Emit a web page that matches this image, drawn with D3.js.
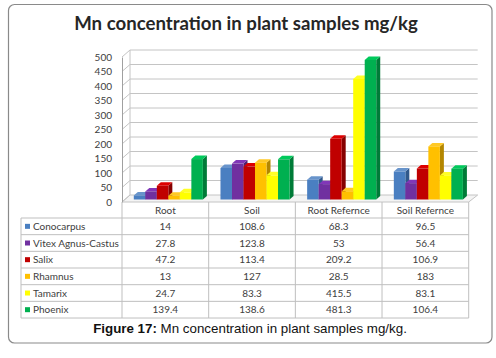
<!DOCTYPE html>
<html><head><meta charset="utf-8">
<script src="https://cdn.jsdelivr.net/npm/d3@7"></script>
<style>html,body{margin:0;padding:0;background:#fff;}svg{display:block;}</style>
</head><body>
<script>
// ---- data ----
const categories = ["Root", "Soil", "Root Refernce", "Soil Refernce"];
const seriesNames = ["Conocarpus", "Vitex Agnus-Castus", "Salix", "Rhamnus", "Tamarix", "Phoenix"];
const conocarpus = [14, 108.6, 68.3, 96.5];
const vitex = [27.8, 123.8, 53, 56.4];
const salix = [47.2, 113.4, 209.2, 106.9];
const rhamnus = [13, 127, 28.5, 183];
const tamarix = [24.7, 83.3, 415.5, 83.1];
const phoenix = [139.4, 138.6, 481.3, 106.4];
const yTicks = [0, 50, 100, 150, 200, 250, 300, 350, 400, 450, 500];
const titleText = "Mn concentration in plant samples mg/kg";
const captionBold = "Figure 17:";
const captionRest = " Mn concentration in plant samples mg/kg.";

const seriesValues = [conocarpus, vitex, salix, rhamnus, tamarix, phoenix];
const colors = ["#4a7fc1", "#7030a0", "#c00000", "#ffc000", "#ffff00", "#00b050"];

const W = 496, H = 358;
const svg = d3.select("body").append("svg").attr("width", W).attr("height", H);

// frame
svg.append("rect").attr("x", 8.5).attr("y", 4.5).attr("width", 483.5).attr("height", 338.5)
  .attr("rx", 6).attr("fill", "#fff").attr("stroke", "#8a8a8a").attr("stroke-width", 1.2);

function fit(sel, target) {
  const fs = parseFloat(sel.attr("font-size"));
  const w = sel.node().getComputedTextLength();
  sel.attr("font-size", fs * target / w);
}

// title
const title = svg.append("text").attr("x", 246).attr("y", 30).attr("text-anchor", "middle")
  .attr("font-family", "Lato, 'Open Sans', sans-serif").attr("font-weight", "bold")
  .attr("font-size", 18).attr("fill", "#262626").text(titleText);
fit(title, 344);

// geometry
const x0 = 122, x1 = 468.7;
const backDX = 8, backDY = -7;
const y = d3.scaleLinear().domain([0, 500]).range([202, 57]);
const x = d3.scaleBand().domain(categories).range([x0, x1]).padding(0);
const xi = d3.scaleBand().domain(seriesNames).range([8.8, x.bandwidth() - 8.8]).padding(0);

const grid = "#c4c4c4";
// floor
svg.append("path")
  .attr("d", `M${x0},${y(0)} L${x0 + backDX},${y(0) + backDY} L${x1 + backDX + 1},${y(0) + backDY} L${x1},${y(0)} Z`)
  .attr("fill", "#f4f4f4").attr("stroke", grid).attr("stroke-width", 1);

// gridlines on back wall and side wall
const g = svg.append("g");
yTicks.forEach(t => {
  if (t > 0) {
    g.append("line").attr("x1", x0 + backDX).attr("x2", x1 + backDX + 1)
      .attr("y1", y(t) + backDY).attr("y2", y(t) + backDY).attr("stroke", grid);
  }
  g.append("line").attr("x1", x0).attr("y1", y(t)).attr("x2", x0 + backDX).attr("y2", y(t) + backDY)
    .attr("stroke", grid);
});
g.append("line").attr("x1", x0 + backDX).attr("x2", x0 + backDX)
  .attr("y1", y(0) + backDY).attr("y2", y(500) + backDY).attr("stroke", grid);

// y axis
const axis = svg.append("g").attr("transform", `translate(${x0},0)`)
  .call(d3.axisLeft(y).tickValues(yTicks).tickSize(0).tickSizeOuter(0).tickPadding(10));
axis.select(".domain").attr("stroke", "#a0a0a0");
axis.selectAll("text").attr("font-family", "Lato, sans-serif").attr("font-size", 10).attr("fill", "#404040");

// bars
const bdx = 3, bdy = -2.5, ddx = 4, ddy = -3.5;
function shade(c, k) { const h = d3.hsl(c); return d3.hsl(h.h, h.s, Math.max(0, Math.min(1, h.l * k))).toString(); }
const barsG = svg.append("g");
categories.forEach((cat, ci) => {
  seriesNames.forEach((s, si) => {
    const v = seriesValues[si][ci];
    const bx = x(cat) + xi(s) + bdx;
    const bw = xi.bandwidth();
    const yb = y(0) + bdy, yt = y(v) + bdy;
    const c = colors[si];
    const bg = barsG.append("g");
    // side
    bg.append("path").attr("d", `M${bx + bw},${yb} L${bx + bw + ddx},${yb + ddy} L${bx + bw + ddx},${yt + ddy} L${bx + bw},${yt} Z`)
      .attr("fill", shade(c, 0.7));
    // top
    bg.append("path").attr("d", `M${bx},${yt} L${bx + ddx},${yt + ddy} L${bx + bw + ddx},${yt + ddy} L${bx + bw},${yt} Z`)
      .attr("fill", shade(c, 1.15));
    // front
    bg.append("rect").attr("x", bx).attr("y", yt).attr("width", bw).attr("height", yb - yt).attr("fill", c);
  });
});

// data table
const tableTop = 202, headH = 16, rowH = 16.67, tableLeft = 21;
const rowTop = tableTop + headH;
const tableBottom = rowTop + rowH * seriesNames.length;
const tg = svg.append("g");
const lineC = "#bfbfbf";
// vertical lines
categories.forEach((cat, i) => {
  tg.append("line").attr("x1", x(cat)).attr("x2", x(cat)).attr("y1", tableTop).attr("y2", tableBottom).attr("stroke", lineC);
});
tg.append("line").attr("x1", x1).attr("x2", x1).attr("y1", tableTop).attr("y2", tableBottom).attr("stroke", lineC);
tg.append("line").attr("x1", tableLeft).attr("x2", tableLeft).attr("y1", rowTop).attr("y2", tableBottom).attr("stroke", lineC);
// horizontal lines
for (let r = 0; r <= seriesNames.length; r++) {
  const yy = rowTop + r * rowH;
  tg.append("line").attr("x1", tableLeft).attr("x2", x1).attr("y1", yy).attr("y2", yy).attr("stroke", lineC);
}
const tf = "Lato, sans-serif", tfs = 10, tc = "#404040";
categories.forEach(cat => {
  tg.append("text").attr("x", x(cat) + x.bandwidth() / 2).attr("y", tableTop + headH / 2 + 3.5)
    .attr("text-anchor", "middle").attr("font-family", tf).attr("font-size", tfs).attr("fill", tc).text(cat);
});
seriesNames.forEach((s, si) => {
  const cy = rowTop + si * rowH + rowH / 2;
  tg.append("rect").attr("x", 25).attr("y", cy - 2.5).attr("width", 5).attr("height", 5).attr("fill", colors[si]);
  tg.append("text").attr("x", 33).attr("y", cy + 3.5).attr("font-family", tf).attr("font-size", tfs).attr("fill", tc).text(s);
  categories.forEach((cat, ci) => {
    tg.append("text").attr("x", x(cat) + x.bandwidth() / 2).attr("y", cy + 3.5)
      .attr("text-anchor", "middle").attr("font-family", tf).attr("font-size", tfs).attr("fill", tc)
      .text(String(seriesValues[si][ci]));
  });
});

// caption
const cap = svg.append("text").attr("x", 250).attr("y", 333).attr("text-anchor", "middle")
  .attr("font-family", "'Liberation Sans', Arial, sans-serif").attr("font-size", 13).attr("fill", "#111");
cap.append("tspan").attr("font-weight", "bold").text(captionBold);
cap.append("tspan").text(captionRest);
fit(cap, 314);
</script>
</body></html>
